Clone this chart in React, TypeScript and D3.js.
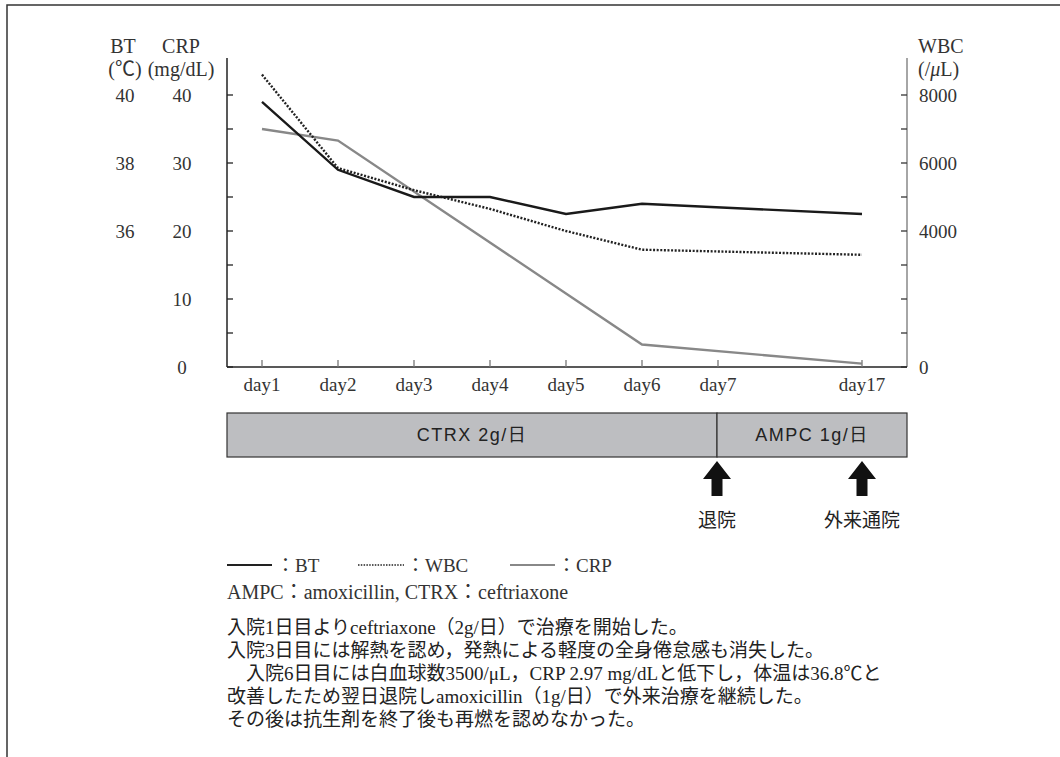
import React from "react";
import * as d3 from "d3";

// ---- data ----
const dayNums = [1, 2, 3, 4, 5, 6, 7, 17];
const btDays = [1, 2, 3, 4, 5, 6, 17];
const btValues = [39.8, 37.8, 37.0, 37.0, 36.5, 36.8, 36.5];
const wbcDays = [1, 2, 3, 4, 5, 6, 17];
const wbcValues = [8600, 5850, 5200, 4650, 4000, 3450, 3300];
const crpDays = [1, 2, 6, 17];
const crpValues = [35, 33.3, 3.3, 0.5];
const crpTicks = [0, 5, 10, 15, 20, 25, 30, 35, 40];
const crpLabels = [0, 10, 20, 30, 40];
const btLabels = [36, 38, 40];
const wbcTicks = [0, 1000, 2000, 3000, 4000, 5000, 6000, 7000, 8000];
const wbcLabels = [0, 4000, 6000, 8000];
const therapies = [
  { label: "CTRX 2g/日", from: 1, to: 7 },
  { label: "AMPC 1g/日", from: 7, to: 17 },
];
const events = [
  { label: "退院", day: 7 },
  { label: "外来通院", day: 17 },
];
const noteLine = "AMPC：amoxicillin, CTRX：ceftriaxone";
const paragraph = [
  "入院1日目よりceftriaxone（2g/日）で治療を開始した。",
  "入院3日目には解熱を認め，発熱による軽度の全身倦怠感も消失した。",
  "　入院6日目には白血球数3500/μL，CRP 2.97 mg/dLと低下し，体温は36.8℃と",
  "改善したため翌日退院しamoxicillin（1g/日）で外来治療を継続した。",
  "その後は抗生剤を終了後も再燃を認めなかった。",
];

const SERIF = "'Liberation Serif', 'Noto Sans CJK JP', serif";
const SANS = "'Liberation Sans Narrow', 'Liberation Sans', 'Noto Sans CJK JP', sans-serif";
const JP = "'Noto Sans CJK JP', sans-serif";

export default function App() {
  const W = 1060, H = 757;
  const left = 227, right = 907, bottom = 367, top = 95, axisTop = 58;

  const x = d3.scaleLinear().domain([1, 7, 17]).range([262, 718, 862]);
  const yCrp = d3.scaleLinear().domain([0, 40]).range([bottom, top]);
  const yBt = d3.scaleLinear().domain([32, 40]).range([bottom, top]);
  const yWbc = d3.scaleLinear().domain([0, 8000]).range([bottom, top]);

  const lineOf = (days: number[], vals: number[], y: d3.ScaleLinear<number, number>) =>
    d3.line<number>().x((_, i) => x(days[i])).y((v) => y(v))(vals) || "";

  const barTop = 413, barBot = 457, barLeft = left, barRight = right;
  const barX = d3.scaleLinear().domain([1, 7, 17]).range([barLeft, 717, barRight]);
  const eventX = (d: number) => (d === 17 ? x(d) : barX(d));

  const arrow = (cx: number) => {
    const t = 461, hb = 479, b = 496, hw = 14, sw = 5.5;
    return `M${cx},${t} L${cx + hw},${hb} L${cx + sw},${hb} L${cx + sw},${b} L${cx - sw},${b} L${cx - sw},${hb} L${cx - hw},${hb} Z`;
  };

  return (
    <div style={{ position: "absolute", left: 0, top: 0 }}>
      <svg width={W} height={H} style={{ display: "block", background: "#fff" }}>
        {/* frame */}
        <path d={`M7,${H} L7,5 L${W},5`} fill="none" stroke="#333" strokeWidth={1.5} />

        {/* axis titles */}
        <g fontFamily={SERIF} fontSize={20} fill="#333">
          <text x={123} y={53} textAnchor="middle">BT</text>
          <text x={181} y={53} textAnchor="middle">CRP</text>
          <text x={125} y={76} textAnchor="middle">(℃)</text>
          <text x={181} y={76} textAnchor="middle">(mg/dL)</text>
          <text x={918} y={53}>WBC</text>
          <text x={918} y={76}>(/<tspan fontStyle="italic">μ</tspan>L)</text>
        </g>

        {/* left axis */}
        <line x1={left} y1={axisTop} x2={left} y2={bottom} stroke="#222" strokeWidth={1.5} />
        {crpTicks.map((t) => (
          <line key={"lt" + t} x1={left} x2={left + 6} y1={yCrp(t)} y2={yCrp(t)} stroke="#222" strokeWidth={1.3} />
        ))}
        <g fontFamily={SERIF} fontSize={19} fill="#333" textAnchor="middle" dominantBaseline="central">
          {crpLabels.map((t) => (
            <text key={"cl" + t} x={182} y={yCrp(t)}>{t}</text>
          ))}
          {btLabels.map((t) => (
            <text key={"bl" + t} x={125} y={yBt(t)}>{t}</text>
          ))}
        </g>

        {/* right axis */}
        <line x1={right} y1={axisTop} x2={right} y2={bottom} stroke="#888" strokeWidth={1.5} />
        {wbcTicks.map((t) => (
          <line key={"rt" + t} x1={right - 6} x2={right} y1={yWbc(t)} y2={yWbc(t)} stroke="#333" strokeWidth={1.3} />
        ))}
        <g fontFamily={SERIF} fontSize={19} fill="#333" dominantBaseline="central">
          {wbcLabels.map((t) => (
            <text key={"wl" + t} x={919} y={yWbc(t)}>{t}</text>
          ))}
        </g>

        {/* bottom axis */}
        <line x1={left} y1={bottom} x2={right} y2={bottom} stroke="#222" strokeWidth={1.5} />
        {dayNums.map((d) => (
          <line key={"xt" + d} x1={x(d)} x2={x(d)} y1={bottom - 7} y2={bottom} stroke="#777" strokeWidth={1.3} />
        ))}
        <g fontFamily={SERIF} fontSize={19} fill="#333" textAnchor="middle">
          {dayNums.map((d) => (
            <text key={"xl" + d} x={x(d)} y={391}>{"day" + d}</text>
          ))}
        </g>

        {/* series */}
        <path d={lineOf(crpDays, crpValues, yCrp)} fill="none" stroke="#888" strokeWidth={2.4} />
        <path d={lineOf(wbcDays, wbcValues, yWbc)} fill="none" stroke="#222" strokeWidth={2.4} strokeDasharray="2,1.6" />
        <path d={lineOf(btDays, btValues, yBt)} fill="none" stroke="#1a1a1a" strokeWidth={2.4} />

        {/* therapy bar */}
        {therapies.map((t) => (
          <g key={t.label}>
            <rect x={barX(t.from)} y={barTop} width={barX(t.to) - barX(t.from)} height={barBot - barTop}
              fill="#bdbec1" stroke="#333" strokeWidth={1.2} />
            <text x={(barX(t.from) + barX(t.to)) / 2} y={(barTop + barBot) / 2} textAnchor="middle"
              dominantBaseline="central" fontFamily={SANS} fontSize={18} letterSpacing={1.5} fill="#222">{t.label}</text>
          </g>
        ))}

        {/* events */}
        {events.map((e) => (
          <g key={e.label}>
            <path d={arrow(eventX(e.day))} fill="#111" />
            <text x={eventX(e.day)} y={518} textAnchor="middle"
              dominantBaseline="central" fontFamily={JP} fontSize={19} fill="#222">{e.label}</text>
          </g>
        ))}

        {/* legend */}
        <line x1={227} x2={272} y1={565} y2={565} stroke="#222" strokeWidth={2} />
        <line x1={358} x2={404} y1={565} y2={565} stroke="#222" strokeWidth={1.6} strokeDasharray="1.5,1.3" />
        <line x1={510} x2={555} y1={565} y2={565} stroke="#888" strokeWidth={2} />
        <g fontFamily={SERIF} fontSize={19} fill="#333">
          <text x={276} y={572}>：BT</text>
          <text x={406} y={572}>：WBC</text>
          <text x={557} y={572}>：CRP</text>
          <text x={227} y={599} fontSize={20}>{noteLine}</text>
        </g>

        {/* paragraph */}
        <g fontFamily={SERIF} fontSize={19} fill="#222">
          {paragraph.map((p, i) => (
            <text key={i} x={227} y={634 + i * 23}>{p}</text>
          ))}
        </g>
      </svg>
    </div>
  );
}
